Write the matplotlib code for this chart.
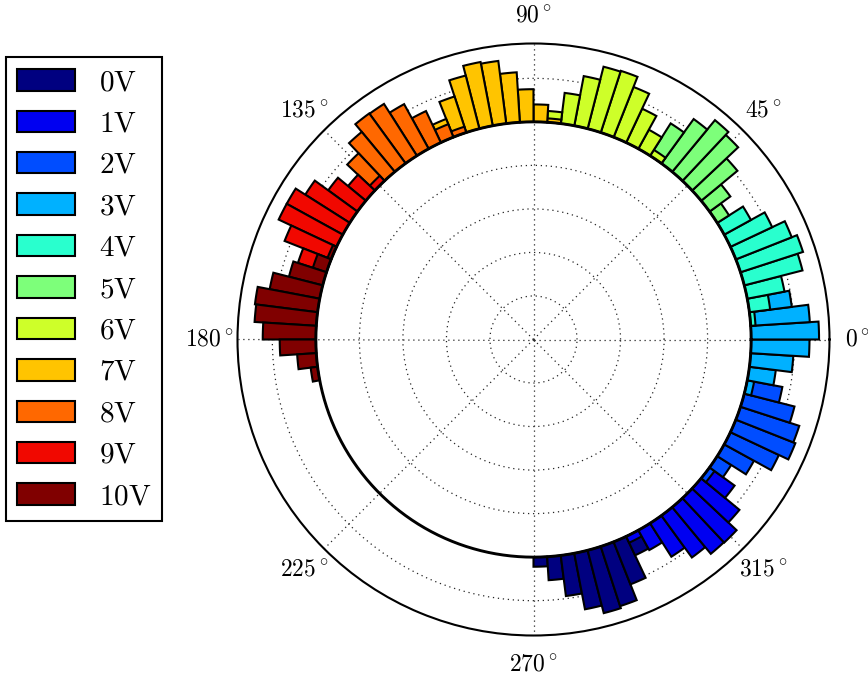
import numpy as np
import matplotlib
matplotlib.use("Agg")
import matplotlib.pyplot as plt

plt.rcParams["mathtext.fontset"] = "cm"
plt.rcParams["font.family"] = "serif"

# Phase histogram per drive voltage: 100 angular bins, radial baseline at 5
n_bins = 100
baseline = 5.0
voltages = ["0V", "1V", "2V", "3V", "4V", "5V", "6V", "7V", "8V", "9V", "10V"]
start_bins = [75, 82, 89, 96, 1, 9, 15, 23, 30, 37, 43]

h_0v = [0.22, 0.54, 0.94, 1.31, 1.49, 1.44, 1.05, 0.48]
h_1v = [0.16, 0.52, 0.91, 1.19, 1.39, 1.40, 1.14, 0.71]
h_2v = [0.14, 0.38, 0.78, 1.23, 1.47, 1.42, 1.19, 0.82]
h_3v = [0.16, 0.61, 0.98, 1.34, 1.56, 1.36, 0.98]
h_4v = [0.11, 0.48, 0.87, 1.38, 1.51, 1.38, 1.06, 0.70]
h_5v = [0.32, 0.59, 1.08, 1.45, 1.54, 1.26, 0.88]
h_6v = [0.16, 0.50, 0.86, 1.24, 1.49, 1.47, 1.16, 0.71, 0.26]
h_7v = [0.09, 0.40, 0.75, 1.15, 1.45, 1.49, 1.26, 0.87, 0.45]
h_8v = [0.14, 0.32, 0.80, 1.17, 1.41, 1.42, 1.19, 0.87]
h_9v = [0.16, 0.53, 0.83, 1.21, 1.47, 1.47, 1.15, 0.69]
h_10v = [0.09, 0.33, 0.80, 1.17, 1.45, 1.42, 1.22, 0.83, 0.44, 0.16]
heights = [h_0v, h_1v, h_2v, h_3v, h_4v, h_5v, h_6v, h_7v, h_8v, h_9v, h_10v]

colors = plt.cm.jet(np.linspace(0, 1, len(voltages)))

W, H = 868, 680
fig = plt.figure(figsize=(W / 100, H / 100), dpi=100)
cx, cy, R = 533.5, 339.5, 296.0
ax = fig.add_axes([(cx - R) / W, (H - cy - R) / H, 2 * R / W, 2 * R / H],
                  projection="polar")

width = 2 * np.pi / n_bins
for v, s, h, c in zip(voltages, start_bins, heights, colors):
    idx = (s + np.arange(len(h))) % n_bins
    ax.bar(idx * width, h, width=width, bottom=baseline, align="edge",
           color=c, edgecolor="black", linewidth=1.5, label=v, zorder=3)

# baseline ring under the bars
t = np.linspace(0, 2 * np.pi, 721)
ax.plot(t, np.full_like(t, baseline), color="black", lw=2.1, zorder=4)

ax.set_ylim(0, 6.8)
ax.set_rgrids([1, 2, 3, 4, 5, 6], labels=[""] * 6)
angles = np.arange(0, 360, 45)
ax.set_thetagrids(angles, labels=[r"$%d^\circ$" % a for a in angles],
                  fontsize=17)
ax.tick_params(axis="x", pad=10)
ax.grid(True, color="0.15", linestyle=(0, (1, 3)), linewidth=0.9)
ax.spines["polar"].set_linewidth(1.5)

leg = fig.legend(loc="upper left", bbox_to_anchor=(6 / W, 1 - 57 / H),
                 prop={"size": 21}, fancybox=False, framealpha=1,
                 edgecolor="black", handlelength=2.0, handleheight=0.75,
                 labelspacing=0.46, borderpad=0.38, handletextpad=0.8,
                 borderaxespad=0)
leg.get_frame().set_linewidth(1.5)
for txt in leg.get_texts():
    txt.set_text(r"$\mathrm{%s}$" % txt.get_text())

fig.savefig("out.png", dpi=100)
